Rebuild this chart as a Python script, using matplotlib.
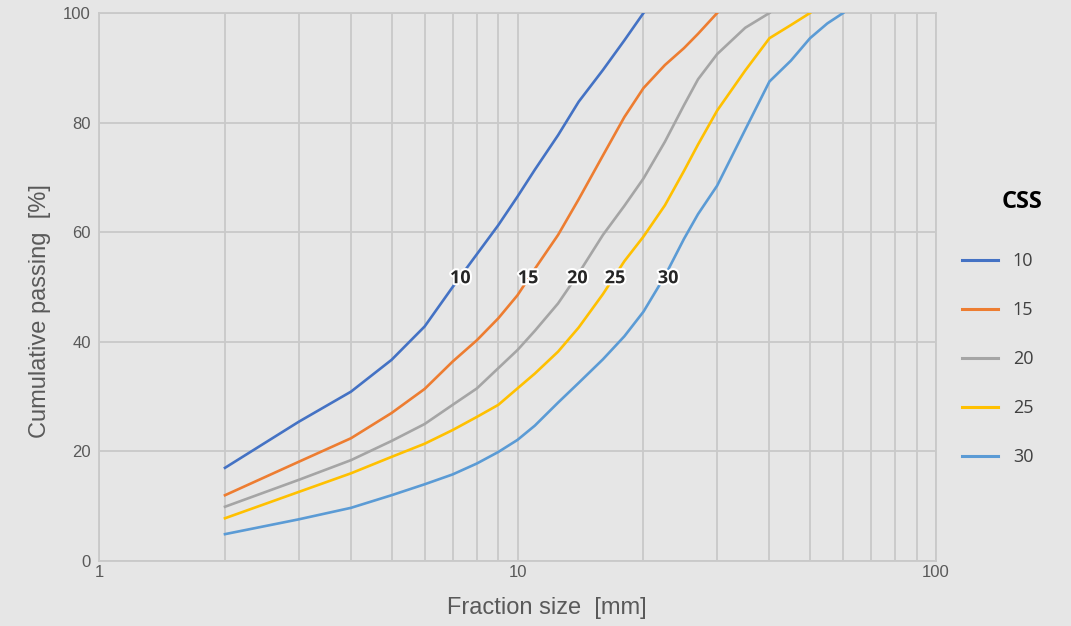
import matplotlib.pyplot as plt
import matplotlib.patheffects as pe
from matplotlib.ticker import FixedLocator, NullFormatter

# fraction sizes [mm] and cumulative passing [%] per closed side setting
css = ["10", "15", "20", "25", "30"]
size_10 = [2, 3, 4, 5, 6, 7, 8, 9, 10, 11, 12.5, 14, 16, 18, 20]
pass_10 = [17.0, 25.4, 30.9, 36.7, 42.8, 50.0, 56.0, 61.3, 66.5, 71.4, 77.7, 83.8, 89.6, 95.0, 100]
size_15 = [2, 3, 4, 5, 6, 7, 8, 9, 10, 11, 12.5, 14, 16, 18, 20, 22.5, 25, 27, 30]
pass_15 = [12.0, 18.1, 22.4, 27.0, 31.4, 36.4, 40.3, 44.3, 48.5, 53.3, 59.5, 66.0, 74.0, 81.0,
           86.3, 90.5, 93.6, 96.2, 100]
size_20 = [2, 3, 4, 5, 6, 7, 8, 9, 10, 11, 12.5, 14, 16, 18, 20, 22.5, 25, 27, 30, 35, 40]
pass_20 = [9.9, 14.8, 18.4, 21.9, 25.0, 28.5, 31.5, 35.2, 38.5, 42.0, 47.0, 52.5, 59.5, 64.8,
           69.8, 76.5, 83.2, 87.9, 92.5, 97.3, 100]
size_25 = [2, 3, 4, 5, 6, 7, 8, 9, 10, 11, 12.5, 14, 16, 18, 20, 22.5, 25, 27, 30, 35, 40, 45, 50]
pass_25 = [7.8, 12.6, 16.0, 19.0, 21.4, 23.9, 26.3, 28.5, 31.5, 34.2, 38.2, 42.6, 48.7, 54.7,
           59.2, 64.9, 71.2, 76.0, 82.2, 89.5, 95.4, 97.8, 100]
size_30 = [2, 3, 4, 5, 6, 7, 8, 9, 10, 11, 12.5, 14, 16, 18, 20, 22.5, 25, 27, 30, 35, 40, 45,
           50, 55, 60]
pass_30 = [4.9, 7.6, 9.7, 12.0, 14.0, 15.8, 17.8, 19.9, 22.1, 24.7, 28.9, 32.5, 36.8, 41.0,
           45.5, 52.0, 58.8, 63.3, 68.5, 78.7, 87.5, 91.3, 95.4, 98.1, 100]

# in-plot curve labels
label_x = [7.3, 10.6, 13.9, 17.1, 22.9]
label_y = [51.6, 51.6, 51.6, 51.6, 51.6]

sizes = [size_10, size_15, size_20, size_25, size_30]
passing = [pass_10, pass_15, pass_20, pass_25, pass_30]
colors = ["#4472C4", "#ED7D31", "#A5A5A5", "#FFC000", "#5B9BD5"]

bg = "#e6e6e6"
grid_c = "#c9c9c9"
txt_c = "#595959"

fig = plt.figure(figsize=(10.71, 6.26), dpi=100, facecolor=bg)
ax = fig.add_axes([99 / 1071, 65 / 626, 837 / 1071, 548 / 626], facecolor=bg)

lines = []
for x, y, c, name in zip(sizes, passing, colors, css):
    ln, = ax.plot(x, y, color=c, lw=1.9, label=name, solid_joinstyle="round", zorder=3)
    lines.append(ln)

for lx, ly, name in zip(label_x, label_y, css):
    ax.text(lx, ly, name, ha="center", va="center", fontsize=13, fontweight="bold",
            family="Open Sans", color="#262626", zorder=4,
            path_effects=[pe.withStroke(linewidth=3, foreground="white")])

ax.set_xscale("log")
ax.set_xlim(1, 100)
ax.set_ylim(0, 100)
ax.xaxis.set_major_locator(FixedLocator([1, 10, 100]))
ax.xaxis.set_minor_locator(FixedLocator([2, 3, 4, 5, 6, 7, 8, 9, 20, 30, 40, 50, 60, 70, 80, 90]))
ax.xaxis.set_minor_formatter(NullFormatter())
ax.set_xticks([1, 10, 100])
ax.set_xticklabels(["1", "10", "100"])
ax.set_yticks([0, 20, 40, 60, 80, 100])

ax.grid(True, which="both", axis="x", color=grid_c, lw=1.3)
ax.grid(True, which="major", axis="y", color=grid_c, lw=1.3)
ax.set_axisbelow(True)
for s in ax.spines.values():
    s.set_color(grid_c)
    s.set_linewidth(1.3)
ax.tick_params(which="both", length=0, labelsize=12, labelcolor=txt_c, pad=6)
ax.tick_params(axis="x", pad=3)
for t in ax.get_xticklabels() + ax.get_yticklabels():
    t.set_family("Liberation Sans")

fig.text(40 / 1071, 1 - 311 / 626, "Cumulative passing  [%]", rotation=90, ha="center",
         va="center", fontsize=17, color=txt_c, family="Liberation Sans")
fig.text(547 / 1071, 1 - 608 / 626, "Fraction size  [mm]", ha="center", va="center",
         fontsize=17, color=txt_c, family="Liberation Sans")

# legend: title as separate text, entries below
fig.text(1022 / 1071, 1 - 202 / 626, "CSS", ha="center", va="center", fontsize=17,
         fontweight="bold", family="Open Sans", color="black")
leg = fig.legend(handles=lines, loc="upper left", bbox_to_anchor=(946 / 1071, 1 - 236 / 626),
                 frameon=False, fontsize=13, handlelength=2.0,
                 handletextpad=0.8, labelspacing=1.72)
for t in leg.get_texts():
    t.set_color("#404040")
    t.set_family("Open Sans")
for h in leg.legend_handles:
    h.set_linewidth(2.2)

fig.savefig("out.png", dpi=100, facecolor=bg)
